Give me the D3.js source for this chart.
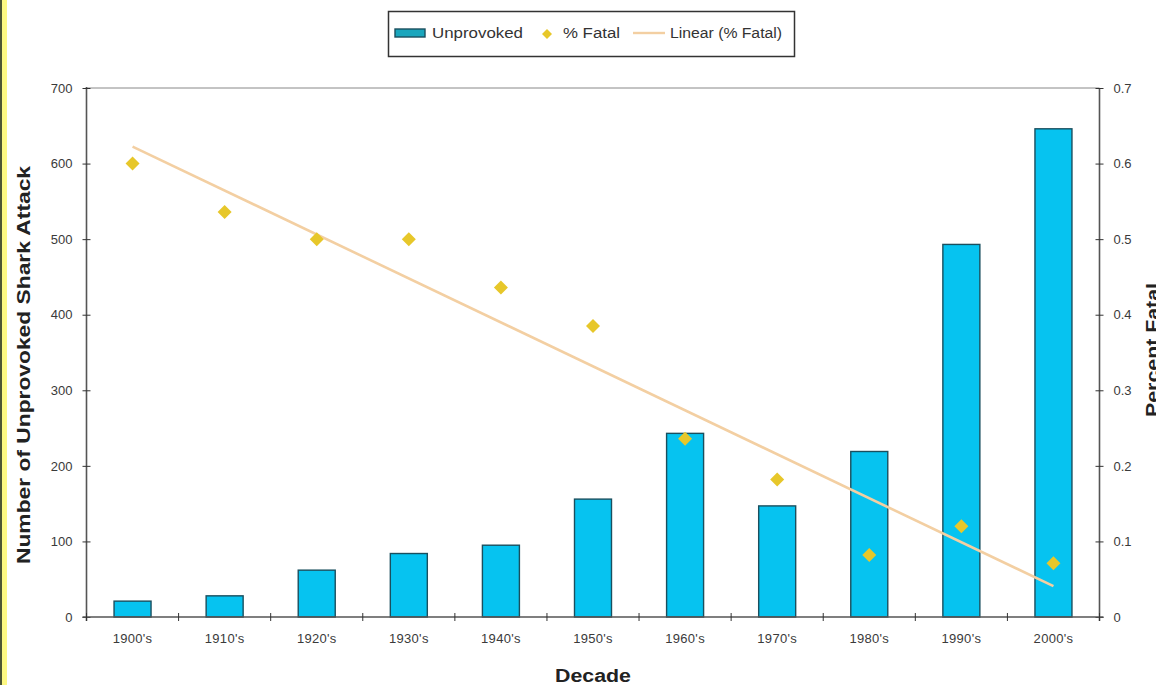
<!DOCTYPE html>
<html><head><meta charset="utf-8">
<script src="https://cdn.jsdelivr.net/npm/d3@7"></script>
<style>html,body{margin:0;padding:0;background:#fff;overflow:hidden}svg{display:block}text{font-family:Arial,"Liberation Sans",sans-serif}</style>
</head><body><svg id="c" width="1156" height="685"></svg>
<script>
const decades = ["1900's","1910's","1920's","1930's","1940's","1950's","1960's","1970's","1980's","1990's","2000's"];
const unprovoked = [21, 28, 62, 84, 95, 156, 243, 147, 219, 493, 646];
const pctFatal = [0.60, 0.536, 0.50, 0.50, 0.436, 0.385, 0.236, 0.182, 0.082, 0.12, 0.071];
const leftTicks = [0,100,200,300,400,500,600,700];
const rightTicks = [0,0.1,0.2,0.3,0.4,0.5,0.6,0.7];

const svg = d3.select("#c");
const L = 86.5, R = 1099.5, T = 88, B = 617;

// left yellow strip
svg.append("rect").attr("x",0).attr("y",0).attr("width",7).attr("height",685).attr("fill","#fdf882");
svg.append("rect").attr("x",0).attr("y",0).attr("width",2).attr("height",685).attr("fill","#4e5632");

const xb = d3.scaleBand().domain(decades).range([L,R]);
const yL = d3.scaleLinear().domain([0,700]).range([B,T]);
const yR = d3.scaleLinear().domain([0,0.7]).range([B,T]);

// plot frame (top)
svg.append("line").attr("x1",L).attr("x2",R).attr("y1",T).attr("y2",T).attr("stroke","#888").attr("stroke-width",1);

// bars
svg.append("g").selectAll("rect").data(decades).join("rect")
  .attr("x",d=>xb(d)+xb.bandwidth()/2-18.5)
  .attr("width",37)
  .attr("y",(d,i)=>yL(unprovoked[i]))
  .attr("height",(d,i)=>B-yL(unprovoked[i]))
  .attr("fill","#06c3f0").attr("stroke","#1a4f5e").attr("stroke-width",1.4);

// regression line (least squares of % Fatal)
const xs = decades.map((d,i)=>i+1);
const mx = d3.mean(xs), my = d3.mean(pctFatal);
const slope = d3.sum(xs,(v,i)=>(v-mx)*(pctFatal[i]-my))/d3.sum(xs,v=>(v-mx)*(v-mx));
const icpt = my - slope*mx;
const cx = d=>xb(d)+xb.bandwidth()/2;
svg.append("line")
  .attr("x1",cx(decades[0])).attr("y1",yR(icpt+slope*1))
  .attr("x2",cx(decades[10])).attr("y2",yR(icpt+slope*11))
  .attr("stroke","#f3cfa2").attr("stroke-width",2.6);

// diamonds
svg.append("g").selectAll("path").data(decades).join("path")
  .attr("transform",(d,i)=>`translate(${cx(d)},${yR(pctFatal[i])})`)
  .attr("d","M0,-7L7,0L0,7L-7,0Z")
  .attr("fill","#e7c72a");

// axes
const axC = "#555";
const gl = svg.append("g").attr("transform",`translate(${L},0)`)
  .call(d3.axisLeft(yL).tickValues(leftTicks).tickSize(4).tickPadding(10).tickFormat(d3.format("d")));
gl.selectAll(".tick line").attr("x2",-4).attr("x1",4).attr("stroke","#333");
const gr = svg.append("g").attr("transform",`translate(${R},0)`)
  .call(d3.axisRight(yR).tickValues(rightTicks).tickSize(4).tickPadding(10).tickFormat(d=>d===0?"0":d3.format(".1f")(d)));
gr.selectAll(".tick line").attr("x1",-4).attr("x2",4).attr("stroke","#333");
const bounds = decades.map(d=>xb(d)).concat([R]);
const gx = svg.append("g").attr("transform",`translate(0,${B})`)
  .call(d3.axisBottom(xb).tickSize(0).tickPadding(17));
gx.append("g").selectAll("line").data(bounds).join("line")
  .attr("x1",d=>d).attr("x2",d=>d).attr("y1",-4).attr("y2",4).attr("stroke","#333");
[gl,gr,gx].forEach(g=>{
  g.select(".domain").attr("stroke",axC).attr("stroke-width",1.6);
  g.selectAll(".tick text").attr("fill","#3a3a3a").attr("font-size",13).attr("font-family","Arial, Liberation Sans, sans-serif");
});
gx.selectAll(".tick text").attr("letter-spacing",0.3);
gl.select(".domain").attr("d",`M0,${T-1}V${B+4}`);
gr.select(".domain").attr("d",`M0,${T}V${B+4}`);
gx.select(".domain").attr("d",`M${L-4},0H${R+4}`);

// axis titles
svg.append("text").attr("transform","translate(30,365) rotate(-90)").attr("text-anchor","middle")
  .attr("font-weight","bold").attr("font-size",18).attr("fill","#222")
  .attr("textLength",398).attr("lengthAdjust","spacingAndGlyphs").text("Number of Unprovoked Shark Attack");
svg.append("text").attr("transform","translate(1159,350) rotate(-90)").attr("text-anchor","middle")
  .attr("font-weight","bold").attr("font-size",18).attr("fill","#222")
  .attr("textLength",134).attr("lengthAdjust","spacingAndGlyphs").text("Percent Fatal");
svg.append("text").attr("x",593).attr("y",682).attr("text-anchor","middle")
  .attr("font-weight","bold").attr("font-size",18).attr("fill","#222")
  .attr("textLength",76).attr("lengthAdjust","spacingAndGlyphs").text("Decade");

// legend
const lg = svg.append("g");
lg.append("rect").attr("x",388.5).attr("y",11.5).attr("width",406).attr("height",45)
  .attr("fill","#fff").attr("stroke","#333").attr("stroke-width",1.5);
const ly = 33;
lg.append("rect").attr("x",395).attr("y",ly-4).attr("width",30).attr("height",8)
  .attr("fill","#1aa6bd").attr("stroke","#1a4f5e").attr("stroke-width",1.4);
lg.append("text").attr("x",432).attr("y",ly+5).attr("font-size",14).attr("fill","#333")
  .attr("textLength",91).attr("lengthAdjust","spacingAndGlyphs").text("Unprovoked");
lg.append("path").attr("transform",`translate(547,${ly+1})`).attr("d","M0,-5L5,0L0,5L-5,0Z").attr("fill","#e7c72a");
lg.append("text").attr("x",563).attr("y",ly+5).attr("font-size",14).attr("fill","#333")
  .attr("textLength",57).attr("lengthAdjust","spacingAndGlyphs").text("% Fatal");
lg.append("line").attr("x1",633).attr("x2",665).attr("y1",ly).attr("y2",ly).attr("stroke","#f3cfa2").attr("stroke-width",2.4);
lg.append("text").attr("x",670).attr("y",ly+5).attr("font-size",14).attr("fill","#333")
  .attr("textLength",112).attr("lengthAdjust","spacingAndGlyphs").text("Linear (% Fatal)");
</script></body></html>
